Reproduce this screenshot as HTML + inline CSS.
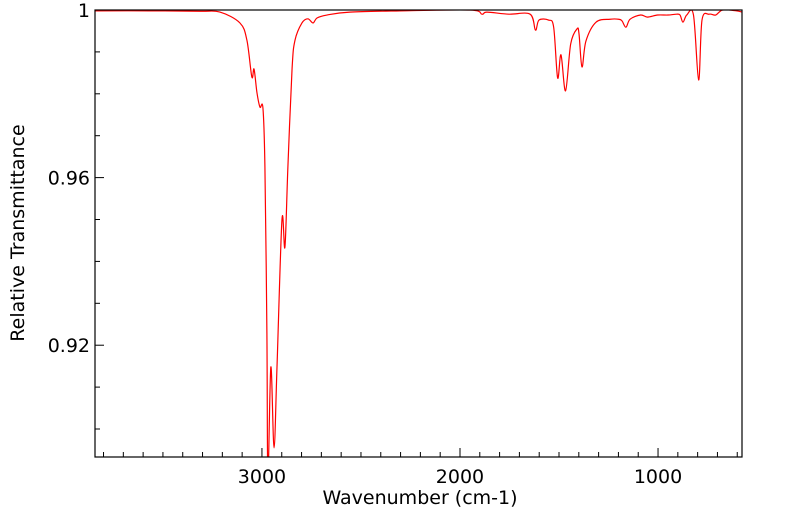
<!DOCTYPE html>
<html><head><meta charset="utf-8"><style>
html,body{margin:0;padding:0;background:#fff;}
svg{display:block;font-family:"DejaVu Sans","Liberation Sans",sans-serif;}
</style></head><body>
<svg id="chart" width="799" height="516">
<defs><clipPath id="plotclip"><rect x="95" y="10" width="647" height="447"/></clipPath></defs>
<g id="axes"></g>
<path id="series" fill="none" stroke="#ff0000" stroke-width="1.2" clip-path="url(#plotclip)"/>
<rect x="95" y="10" width="647" height="447" fill="none" stroke="#000" stroke-width="1.2"/>
<text x="420" y="504" font-size="19" text-anchor="middle">Wavenumber (cm-1)</text>
<text transform="translate(24,233) rotate(-90)" font-size="19" text-anchor="middle">Relative Transmittance</text>
</svg>
<script>
const wavenumbers=[3843,3566,3313,3212,3111,3076,3051,3040,3025,3010,2995,2985,2975,2970,2955,2939,2924,2899,2884,2869,2848,2833,2798,2768,2742,2722,2672,2556,2303,1949,1889,1864,1753,1646,1619,1601,1553,1527,1507,1490,1467,1441,1409,1399,1384,1364,1313,1242,1199,1182,1162,1141,1088,1053,1002,950,907,889,874,855,821,795,778,742,709,674,606,576];
const transmittance=[0.9998,0.9998,0.9997,0.9995,0.9969,0.9928,0.9840,0.9859,0.9802,0.9768,0.9766,0.9625,0.9229,0.888,0.9148,0.8955,0.9148,0.9499,0.9434,0.9625,0.9859,0.9928,0.9969,0.9979,0.9969,0.9981,0.9988,0.9995,0.9998,1.0,0.9990,0.9995,0.9990,0.9990,0.9952,0.9976,0.9976,0.9959,0.9838,0.9893,0.9807,0.9919,0.9955,0.9943,0.9864,0.9926,0.9971,0.9978,0.9978,0.9974,0.9959,0.9978,0.9988,0.9983,0.9988,0.9988,0.9990,0.9988,0.9971,0.9988,0.9988,0.9833,0.9976,0.9990,0.9988,1.0,0.9998,0.9995];
const xTicks=[3000,2000,1000];
const xTickLabels=["3000","2000","1000"];
const yTicks=[1,0.96,0.92];
const yTickLabels=["1","0.96","0.92"];
const X0=95,X1=742,Y0=10,Y1=457,WMAX=3843,WMIN=576,TMAX=1.0,TMIN=0.89332;
function xs(w){return X0+(WMAX-w)/(WMAX-WMIN)*(X1-X0);}
function ys(t){return Y0+(TMAX-t)/(TMAX-TMIN)*(Y1-Y0);}
const NS="http://www.w3.org/2000/svg";
const axes=document.getElementById('axes');
function line(x1,y1,x2,y2,name){const l=document.createElementNS(NS,'line');l.setAttribute('x1',x1);l.setAttribute('y1',y1);l.setAttribute('x2',x2);l.setAttribute('y2',y2);l.setAttribute('stroke','#000');l.setAttribute('stroke-width','1');


axes.appendChild(l);}
function text(x,y,s,anchor,name){const t=document.createElementNS(NS,'text');t.setAttribute('x',x);t.setAttribute('y',y);t.setAttribute('font-size','19');t.setAttribute('text-anchor',anchor);t.textContent=s;


axes.appendChild(t);}
for(let w=3800;w>=WMIN;w-=100){const x=xs(w);const major=w%1000===0;line(x,Y1,x,Y1-(major?9:5),major?'x-major-tick':'x-minor-tick');}
xTicks.forEach((w,i)=>text(xs(w),Y1+26,xTickLabels[i],'middle','x-tick-label'));
for(let k=0;k<=10;k++){const t=1-k*0.01;if(t<TMIN)break;const y=ys(t);const major=(k%4===0);line(X0,y,X0+(major?9:5),y,major?'y-major-tick':'y-minor-tick');}
yTicks.forEach((t,i)=>text(X0-5,ys(t)+7,yTickLabels[i],'end','y-tick-label'));
const pts=wavenumbers.map((w,i)=>[xs(w),ys(transmittance[i])]);
let d='M'+pts[0][0].toFixed(2)+','+pts[0][1].toFixed(2);
for(let i=0;i<pts.length-1;i++){const p0=pts[Math.max(0,i-1)],p1=pts[i],p2=pts[i+1],p3=pts[Math.min(pts.length-1,i+2)];
const c1=[p1[0]+(p2[0]-p0[0])/6,p1[1]+(p2[1]-p0[1])/6],c2=[p2[0]-(p3[0]-p1[0])/6,p2[1]-(p3[1]-p1[1])/6];
d+=' C'+c1[0].toFixed(2)+','+c1[1].toFixed(2)+' '+c2[0].toFixed(2)+','+c2[1].toFixed(2)+' '+p2[0].toFixed(2)+','+p2[1].toFixed(2);}
document.getElementById('series').setAttribute('d',d);
</script>
</body></html>
